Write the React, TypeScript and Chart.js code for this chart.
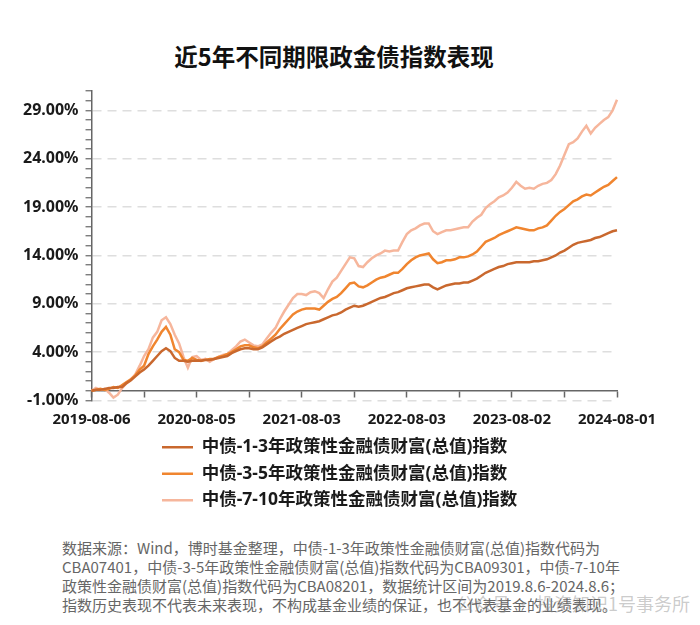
import { useEffect, useRef } from 'react';
import { Chart, registerables } from 'chart.js';

Chart.register(...registerables);

const FONT = '"Noto Sans CJK SC", "Noto Sans", sans-serif';
const TICK_FONT = '"Noto Sans", "Noto Sans CJK SC", sans-serif';

const titleText = '近5年不同期限政金债指数表现';

const seriesNames = [
  '中债-1-3年政策性金融债财富(总值)指数',
  '中债-3-5年政策性金融债财富(总值)指数',
  '中债-7-10年政策性金融债财富(总值)指数',
];

const seriesColors = ['#c9682e', '#f0852f', '#f6b69c'];

// cumulative return (%) at roughly half-month steps, 2019-08-06 .. 2024-08-06
const s13 = [
  0.0, 0.1, 0.1, 0.2, 0.3, 0.3, 0.4, 0.4, 0.8, 1.1,
  1.5, 1.9, 2.2, 2.6, 3.1, 3.6, 4.1, 4.4, 4.1, 3.4,
  3.1, 3.1, 3.0, 3.1, 3.1, 3.1, 3.2, 3.2, 3.3, 3.4,
  3.5, 3.6, 3.9, 4.1, 4.3, 4.4, 4.4, 4.3, 4.3, 4.5,
  4.8, 5.1, 5.4, 5.6, 5.9, 6.1, 6.3, 6.5, 6.7, 6.9,
  7.0, 7.1, 7.2, 7.4, 7.6, 7.8, 7.9, 8.1, 8.4, 8.6,
  8.8, 8.7, 8.8, 9.0, 9.2, 9.4, 9.6, 9.7, 9.9, 10.1,
  10.2, 10.4, 10.6, 10.7, 10.8, 10.9, 11.0, 11.0, 10.7, 10.5,
  10.7, 10.9, 11.0, 11.1, 11.1, 11.2, 11.2, 11.4, 11.6, 11.9,
  12.2, 12.4, 12.6, 12.8, 12.9, 13.1, 13.2, 13.3, 13.3, 13.3,
  13.3, 13.4, 13.4, 13.5, 13.6, 13.8, 14.0, 14.3, 14.5, 14.8,
  15.1, 15.3, 15.4, 15.5, 15.6, 15.8, 15.9, 16.1, 16.3, 16.5,
  16.6,
];

const s35 = [
  0.0, 0.1, 0.2, 0.1, 0.2, 0.4, 0.3, 0.6, 0.9, 1.2,
  1.6, 2.2, 2.6, 3.8, 4.6, 5.3, 6.1, 6.6, 5.8, 4.3,
  4.0, 3.2, 3.1, 3.4, 3.2, 3.1, 3.2, 3.3, 3.3, 3.5,
  3.6, 3.8, 4.0, 4.3, 4.6, 4.7, 4.7, 4.5, 4.4, 4.6,
  5.0, 5.4, 5.8, 6.4, 6.9, 7.4, 7.9, 8.2, 8.4, 8.5,
  8.5, 8.5, 8.4, 8.8, 9.2, 9.5, 9.7, 10.1, 10.6, 11.1,
  11.2, 10.8, 10.7, 10.9, 11.2, 11.5, 11.7, 11.8, 12.0, 12.2,
  12.2, 12.6, 13.1, 13.5, 13.8, 14.0, 14.1, 14.2, 13.6, 13.2,
  13.3, 13.5, 13.5, 13.6, 13.8, 13.8, 13.9, 14.1, 14.4, 14.9,
  15.4, 15.6, 15.8, 16.1, 16.3, 16.5, 16.7, 16.9, 16.8, 16.7,
  16.6, 16.6, 16.8, 16.9, 17.1, 17.6, 18.1, 18.5, 18.8, 19.2,
  19.6, 19.8, 20.1, 20.3, 20.2, 20.5, 20.8, 21.1, 21.3, 21.7,
  22.1,
];

const s710 = [
  0.0, 0.3, 0.1, 0.2, -0.2, -0.7, -0.4, 0.3, 0.8, 1.2,
  1.7, 2.6, 3.6, 4.3, 5.5, 6.1, 7.3, 7.6, 6.9, 5.8,
  4.9, 3.5, 2.4, 3.5, 3.6, 3.2, 3.3, 3.0, 3.3, 3.5,
  3.7, 3.8, 4.2, 4.6, 5.1, 5.3, 5.0, 4.7, 4.6, 4.8,
  5.4, 6.0, 6.5, 7.4, 8.2, 8.9, 9.6, 10.0, 10.0, 9.9,
  10.2, 10.3, 10.1, 9.6, 10.5, 11.3, 11.7, 12.4, 13.1, 13.8,
  13.7, 12.9, 12.8, 13.3, 13.7, 14.0, 14.2, 14.5, 14.4, 14.5,
  14.5, 15.4, 16.2, 16.6, 16.8, 17.1, 17.3, 17.3, 16.5, 16.2,
  16.4, 16.6, 16.6, 16.7, 16.8, 16.9, 16.9, 17.5, 17.9, 18.2,
  18.9, 19.3, 19.6, 20.0, 20.2, 20.5, 21.0, 21.6, 21.2, 20.9,
  21.0, 20.9, 21.2, 21.4, 21.5, 21.8, 22.4, 23.3, 24.4, 25.5,
  25.7, 26.1, 26.8, 27.4, 26.6, 27.2, 27.6, 28.0, 28.3, 29.0,
  30.1,
];

// half-month categories from 2019-08-06 to 2024-08-06
const startUTC = Date.UTC(2019, 7, 6);
const endUTC = Date.UTC(2024, 7, 6);
const categories = s13.map((_, i) =>
  new Date(startUTC + ((endUTC - startUTC) * i) / (s13.length - 1)).toISOString().slice(0, 10)
);

const xTickIndex = [0, 12, 24, 36, 48, 60, 72, 84, 96, 108, 120];
const xTickLabels = ['2019-08-06', '', '2020-08-05', '', '2021-08-03', '', '2022-08-03', '', '2023-08-02', '', '2024-08-01'];

const yMin = -1;
const yMax = 31;
const yLabelEvery = 5;

const footnoteLines = [
  '数据来源：Wind，博时基金整理，中债-1-3年政策性金融债财富(总值)指数代码为',
  'CBA07401，中债-3-5年政策性金融债财富(总值)指数代码为CBA09301，中债-7-10年',
  '政策性金融债财富(总值)指数代码为CBA08201，数据统计区间为2019.8.6-2024.8.6；',
  '指数历史表现不代表未来表现，不构成基金业绩的保证，也不代表基金的业绩表现。',
];

const watermark = '公众号 · 投资知识1号事务所';

const LEGEND_LEFT = 145;

const legendShift = {
  id: 'legendShift',
  afterLayout(chart: any) {
    const lg = chart.legend;
    if (!lg) return;
    const w = lg.width;
    lg.left = LEGEND_LEFT;
    lg.right = LEGEND_LEFT + w;
  },
};

export default function App() {
  const ref = useRef<HTMLCanvasElement | null>(null);

  useEffect(() => {
    if (!ref.current) return;
    const series = [s13, s35, s710];
    const isLabelTick = (v: number) => (v - yMin) % yLabelEvery === 0;
    const chart = new Chart(ref.current, {
      type: 'line',
      data: {
        labels: categories,
        datasets: series.map((d, k) => ({
          label: seriesNames[k],
          data: d,
          borderColor: seriesColors[k],
          backgroundColor: seriesColors[k],
          borderWidth: 2.5,
          pointRadius: 0,
          tension: 0,
        })),
      },
      plugins: [legendShift],
      options: {
        animation: false,
        responsive: true,
        maintainAspectRatio: false,
        layout: { padding: { left: 8, right: 75, top: 20, bottom: 11 } },
        plugins: {
          title: { display: false },
          tooltip: { enabled: false },
          legend: {
            display: true,
            position: 'bottom',
            align: 'start',
            title: {
              display: true,
              text: '',
              font: { size: 12, lineHeight: 1 },
              padding: { top: 17, bottom: 0 },
            },
            labels: {
              usePointStyle: true,
              pointStyle: 'line',
              pointStyleWidth: 31,
              padding: 9,
              color: '#1a1a1a',
              font: { family: TICK_FONT, size: 17.5, weight: 'bold', lineHeight: 1 },
            },
          },
        },
        scales: {
          x: {
            type: 'category',
            position: { y: 0 } as any,
            afterBuildTicks: (s: any) => { s.ticks = xTickIndex.map((v) => ({ value: v })); },
            border: { display: true, color: '#666', width: 1.5 },
            grid: { display: true, drawOnChartArea: false, drawTicks: true, tickLength: 6, tickColor: '#666', tickWidth: 1.5 },
            ticks: {
              autoSkip: false,
              maxRotation: 0,
              minRotation: 0,
              padding: 14,
              color: '#1a1a1a',
              font: { family: TICK_FONT, size: 15, weight: 'bold' },
              callback: (value: any) => {
                const k = xTickIndex.indexOf(Number(value));
                return k >= 0 ? xTickLabels[k] : '';
              },
            },
          },
          y: {
            type: 'linear',
            min: yMin,
            max: yMax,
            border: { display: true, color: '#666', width: 1.5, dash: [9, 6] },
            grid: {
              display: true,
              drawTicks: true,
              tickLength: 6,
              tickWidth: 1.2,
              tickColor: '#666',
              lineWidth: 1.5,
              color: (c: any) => (c.tick && isLabelTick(c.tick.value) ? '#dedede' : 'rgba(0,0,0,0)'),
            },
            ticks: {
              stepSize: 1,
              autoSkip: false,
              padding: 7,
              color: '#1a1a1a',
              font: { family: TICK_FONT, size: 16, weight: 'bold' },
              callback: (value: any) => (isLabelTick(Number(value)) ? Number(value).toFixed(2) + '%' : ''),
            },
          },
        },
      },
    });
    return () => chart.destroy();
  }, []);

  return (
    <div style={{ position: 'relative', width: 684, fontFamily: FONT }}>
      <div
        style={{
          paddingTop: 33,
          height: 30,
          lineHeight: '30px',
          fontSize: 23.5,
          fontWeight: 700,
          textAlign: 'center',
          paddingRight: 32,
          color: '#111',
        }}
      >
        {titleText}
      </div>
      <div style={{ position: 'relative', width: 684, height: 459 }}>
        <canvas ref={ref} />
      </div>
      <div style={{ marginTop: 8, paddingLeft: 54, fontSize: 15, lineHeight: '19px', color: '#666' }}>
        {footnoteLines.map((t, i) => (
          <div key={i} style={{ whiteSpace: 'nowrap' }}>{t}</div>
        ))}
      </div>
      <div
        style={{
          position: 'absolute',
          right: 2,
          top: 584,
          fontSize: 18,
          lineHeight: '22px',
          color: 'rgba(140,140,140,0.45)',
          whiteSpace: 'nowrap',
        }}
      >
        {watermark}
      </div>
    </div>
  );
}
